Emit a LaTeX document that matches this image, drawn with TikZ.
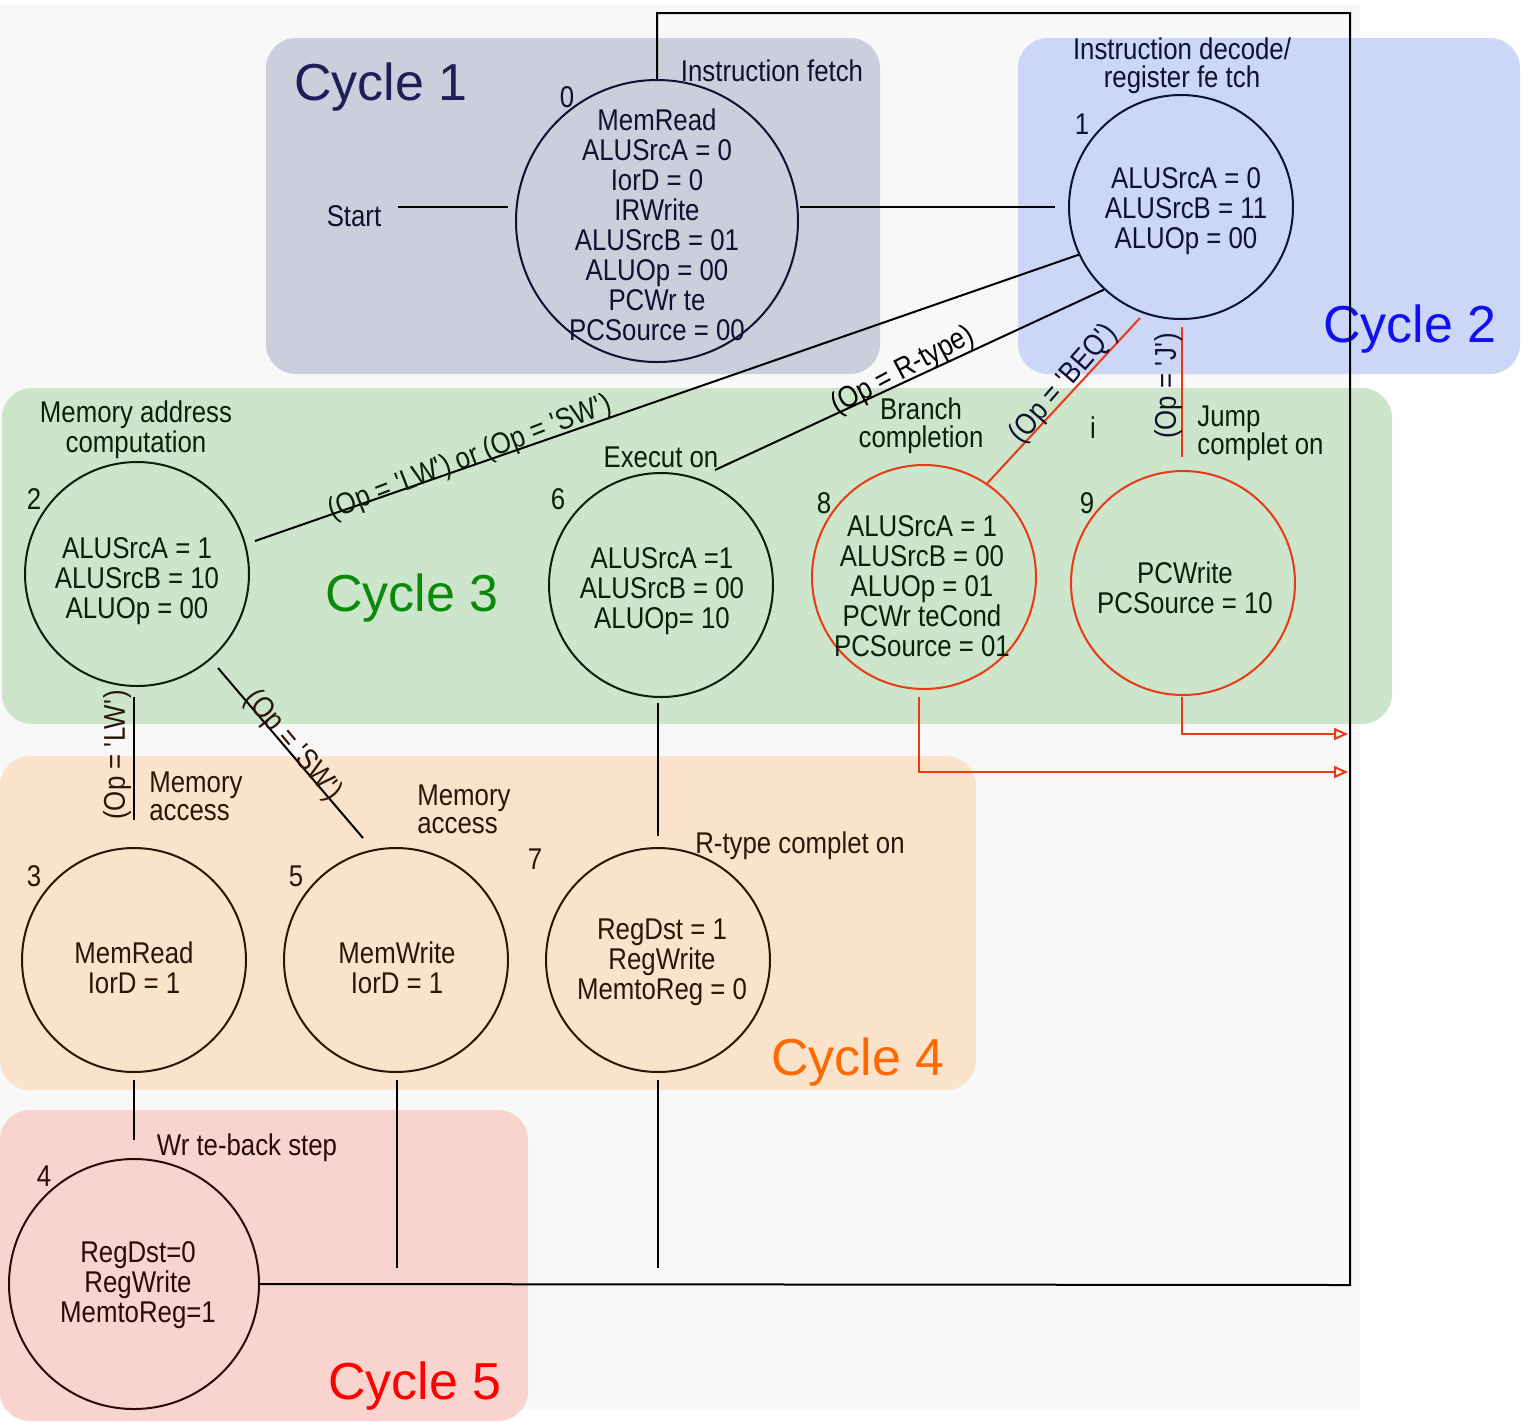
\documentclass[tikz,border=0pt]{standalone}
\usepackage{fontspec}
\setmainfont{Liberation Sans}[FakeStretch=0.86]
\newfontfamily\cycfont{Liberation Sans}
\usetikzlibrary{arrows.meta}
\definecolor{bggray}{HTML}{F8F8F8}
\definecolor{cOne}{HTML}{CBCFDC}
\definecolor{cTwo}{HTML}{CCD6F6}
\definecolor{cThree}{HTML}{CDE5CB}
\definecolor{cFour}{HTML}{FAE2CB}
\definecolor{cFive}{HTML}{F9D3CD}
\definecolor{tOne}{HTML}{1E1E5A}
\definecolor{tTwo}{HTML}{1010F0}
\definecolor{tThree}{HTML}{0A8A0A}
\definecolor{tFour}{HTML}{FF6A00}
\definecolor{tFive}{HTML}{FF0000}
\definecolor{inkA}{HTML}{101030}
\definecolor{inkB}{HTML}{0A200A}
\definecolor{inkC}{HTML}{2A1608}
\definecolor{inkD}{HTML}{2A0A0A}
\definecolor{redln}{HTML}{E83A14}
\newcommand\stf{\fontsize{15pt}{15pt}\selectfont}
\newcommand\cyf{\cycfont\fontsize{26pt}{26pt}\selectfont}
\newcommand\sq{\textquotesingle}
\begin{document}
\begin{tikzpicture}[x=0.5pt,y=-0.5pt,
  stbox/.style={circle, draw, line width=1pt, minimum size=112pt, inner sep=0pt},
  txt/.style={inner sep=0pt, align=center, font=\stf},
  cyc/.style={inner sep=0pt, font=\cyf},
  region/.style={rounded corners=15pt},
  ln/.style={line width=1pt, draw=black},
  rln/.style={line width=1pt, draw=redln},
  arr/.style={-{Triangle[open,length=7pt,width=6pt]}}
]
\useasboundingbox (0,0) rectangle (1522,1421);
\fill[bggray] (0,5) rectangle (1360,1410);
% cycle regions
\fill[cOne,region] (266,38) rectangle (880,374);
\fill[cTwo,region] (1018,38) rectangle (1520,374);
\fill[cThree,region] (2,388) rectangle (1392,724);
\fill[cFour,region] (0,756) rectangle (976,1090);
\fill[cFive,region] (0,1110) rectangle (528,1421);
% cycle labels
\node[cyc,text=tOne] (cy1) at (381,87) {Cycle 1};
\node[cyc,text=tTwo] (cy2) at (1410,329) {Cycle 2};
\node[cyc,text=tThree] (cy3) at (412,598) {Cycle 3};
\node[cyc,text=tFour] (cy4) at (858,1062) {Cycle 4};
\node[cyc,text=tFive] (cy5) at (415,1386) {Cycle 5};
% states (circles)
\node[stbox,draw=inkA,minimum size=141pt] (s0) at (657,221) {};
\node[stbox,draw=inkA] (s1) at (1181,207) {};
\node[stbox,draw=inkB] (s2) at (137,574) {};
\node[stbox,draw=inkB] (s6) at (661,585) {};
\node[stbox,draw=redln] (s8) at (924,577) {};
\node[stbox,draw=redln] (s9) at (1183,583) {};
\node[stbox,draw=inkC] (s3) at (134,960) {};
\node[stbox,draw=inkC] (s5) at (396,960) {};
\node[stbox,draw=inkC] (s7) at (658,960) {};
\node[stbox,draw=inkD,minimum size=125pt] (s4) at (134,1284) {};
% state contents
\node[txt,text=inkA] (s0t) at (657,225)
  {MemRead\\ALUSrcA = 0\\IorD = 0\\IRWrite\\ALUSrcB = 01\\ALUOp = 00\\PCWr te\\PCSource = 00};
\node[txt,text=inkA] (s1t) at (1186,211) {ALUSrcA = 0\\ALUSrcB = 11\\ALUOp = 00};
\node[txt,text=inkB] (s2t) at (137,581) {ALUSrcA = 1\\ALUSrcB = 10\\ALUOp = 00};
\node[txt,text=inkB] (s6t) at (662,591) {ALUSrcA =1\\ALUSrcB = 00\\ALUOp= 10};
\node[txt,text=inkB] (s8t) at (922,586) {ALUSrcA = 1\\ALUSrcB = 00\\ALUOp = 01\\PCWr teCond\\PCSource = 01};
\node[txt,text=inkB] (s9t) at (1185,588) {PCWrite\\PCSource = 10};
\node[txt,text=inkC] (s3t) at (134,968) {MemRead\\IorD = 1};
\node[txt,text=inkC] (s5t) at (397,968) {MemWrite\\IorD = 1};
\node[txt,text=inkC] (s7t) at (662,962) {RegDst = 1\\RegWrite\\MemtoReg = 0};
\node[txt,text=inkD] (s4t) at (138,1285) {RegDst=0\\RegWrite\\MemtoReg=1};
% state numbers
\node[txt,text=inkA] (n0) at (567,97) {0};
\node[txt,text=inkA] (n1) at (1082,124) {1};
\node[txt,text=inkB] (n2) at (34,499) {2};
\node[txt,text=inkB] (n6) at (558,499) {6};
\node[txt,text=inkB] (n8) at (824,503) {8};
\node[txt,text=inkB] (n9) at (1087,503) {9};
\node[txt,text=inkC] (n3) at (34,876) {3};
\node[txt,text=inkC] (n5) at (296,876) {5};
\node[txt,text=inkC] (n7) at (535,859) {7};
\node[txt,text=inkD] (n4) at (44,1176) {4};
% step titles
\node[txt,text=inkA] (tfetch) at (772,71) {Instruction fetch};
\node[txt,text=inkA] (tstart) at (354,216) {Start};
\node[txt,text=inkA] (tdecode) at (1182,66) {Instruction decode/\\[-1pt]register fe tch};
\node[txt,text=inkB] (tmem) at (136,430) {Memory address\\computation};
\node[txt,text=inkB] (texec) at (661,457) {Execut on};
\node[txt,text=inkB] (tbranch) at (921,426) {Branch\\[-1pt]completion};
\node[txt,text=inkB] (ti) at (1093,428) {i};
\node[txt,text=inkB,align=left,anchor=west] (tjump) at (1197,433) {Jump\\[-1pt]complet on};
\node[txt,text=inkC,align=left,anchor=west] (tmacc1) at (149,796) {Memory\\[-1pt]access};
\node[txt,text=inkC,align=left,anchor=west] (tmacc2) at (417,809) {Memory\\[-1pt]access};
\node[txt,text=inkC] (trtype) at (800,846) {R-type complet on};
\node[txt,text=inkD] (twb) at (247,1148) {Wr te-back step};
% free-end coordinates
\coordinate (startend) at (398,207);
\coordinate (s0in) at (508,207);
\coordinate (s0out) at (800,207);
\coordinate (s1in) at (1055,207);
\coordinate (topR) at (1350,13);
\coordinate (botR) at (1350,1285);
\coordinate (s2end) at (255,541);
\coordinate (s6end) at (715,470);
\coordinate (s1b8) at (1140,318);
\coordinate (s1b9) at (1182,327);
\coordinate (s9top) at (1182,457);
\coordinate (s2b3) at (134,697);
\coordinate (s3top) at (134,820);
\coordinate (s2b5) at (218,668);
\coordinate (s5top) at (363,838);
\coordinate (s6b) at (658,703);
\coordinate (s7top) at (658,836);
\coordinate (s3b) at (134,1080);
\coordinate (s4top) at (134,1140);
\coordinate (s5b) at (397,1080);
\coordinate (s5end) at (397,1268);
\coordinate (s7b) at (658,1080);
\coordinate (s7end) at (658,1268);
\coordinate (s8b) at (919,697);
\coordinate (s8arr) at (1348,772);
\coordinate (s9b) at (1182,697);
\coordinate (s9arr) at (1348,734);
% connectors
\draw[ln] (startend) -- (s0in);
\draw[ln] (s0out) -- (s1in);
\draw[ln] (s0.north) |- (topR) -- (botR) -- (s4.east);
\draw[ln] (s1.205.4) -- (s2end);
\draw[ln] (s1.227.5) -- (s6end);
\draw[rln] (s1b8) -- (s8.56.6);
\draw[rln] (s1b9) -- (s9top);
\draw[ln] (s2b3) -- (s3top);
\draw[ln] (s2b5) -- (s5top);
\draw[ln] (s6b) -- (s7top);
\draw[ln] (s3b) -- (s4top);
\draw[ln] (s5b) -- (s5end);
\draw[ln] (s7b) -- (s7end);
\draw[rln,arr] (s8b) |- (s8arr);
\draw[rln,arr] (s9b) |- (s9arr);
% connector labels
\node[txt,text=inkB,rotate=21] (lLWSW) at (470,458) {(Op = \sq LW\sq) or (Op = \sq SW\sq)};
\node[txt,text=black,rotate=28] (lR) at (903,371) {(Op = R-type)};
\node[txt,text=inkA,rotate=49] (lBEQ) at (1064,384) {(Op = \sq BEQ\sq)};
\node[txt,text=inkA,rotate=90] (lJ) at (1168,386) {(Op = \sq J\sq)};
\node[txt,text=inkC,rotate=90] (lLW) at (117,755) {(Op = \sq LW\sq)};
\node[txt,text=inkC,rotate=-50] (lSW) at (293,746) {(Op = \sq SW\sq)};
\end{tikzpicture}
\end{document}
